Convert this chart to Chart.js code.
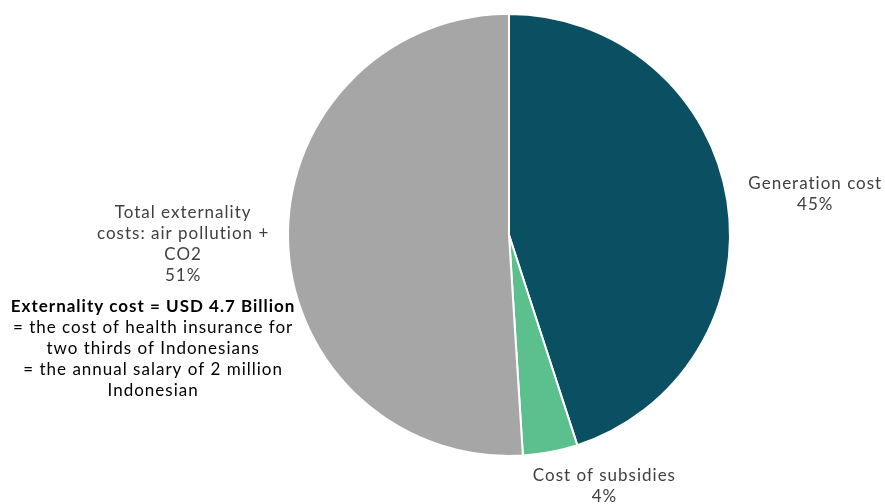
<!DOCTYPE html>
<html>
<head>
<meta charset="utf-8">
<script src="https://cdn.jsdelivr.net/npm/chart.js@4"></script>
<style>
  html, body { margin: 0; padding: 0; background: #ffffff; }
  #wrap { width: 885px; height: 504px; position: relative; }
</style>
</head>
<body>
<div id="wrap"><canvas id="c" width="885" height="504"></canvas></div>
<script>
// ---- Data ----
const categories = ["Generation cost", "Cost of subsidies", "Total externality costs: air pollution + CO2"];
const labelLines = [
  ["Generation cost"],
  ["Cost of subsidies"],
  ["Total externality", "costs: air pollution +", "CO2"]
];
const shares = [45, 4, 51];
const sliceColors = ["#0a4f62", "#5bbf8e", "#a6a6a6"];
const noteBold = "Externality cost = USD 4.7 Billion";
const noteLines = [
  "= the cost of health insurance for",
  "two thirds of Indonesians",
  "= the annual salary of 2 million",
  "Indonesian"
];

// label placement relative to each slice's outer mid-point (dx, dy of block centre)
const labelOffsets = [[88, -6], [54, 34], [-105, 2]];
const noteOffset = [-135, 107]; // relative to the externality slice anchor
const FONT = "Lato, 'Open Sans', sans-serif";
const FONT_SIZE = 17;
const LINE_H = 21;

function setSpacing(ctx) {
  if ('letterSpacing' in ctx) ctx.letterSpacing = "1px";
}

const labelPlugin = {
  id: 'sliceLabels',
  afterDraw(chart) {
    const ctx = chart.ctx;
    const meta = chart.getDatasetMeta(0);
    const anchors = [];
    const total = shares.reduce((a, b) => a + b, 0);
    meta.data.forEach((arc, i) => {
      const p = arc.getProps(['x', 'y', 'startAngle', 'endAngle', 'outerRadius'], true);
      const mid = (p.startAngle + p.endAngle) / 2;
      const ax = p.x + Math.cos(mid) * p.outerRadius;
      const ay = p.y + Math.sin(mid) * p.outerRadius;
      anchors.push([ax, ay]);
      const lines = labelLines[i].concat([Math.round(shares[i] / total * 100) + "%"]);
      const cx = ax + labelOffsets[i][0];
      const cy = ay + labelOffsets[i][1];
      const top = cy - (lines.length - 1) * LINE_H / 2;
      ctx.save();
      setSpacing(ctx);
      ctx.fillStyle = "#404040";
      ctx.font = FONT_SIZE + "px " + FONT;
      ctx.textAlign = "center";
      ctx.textBaseline = "middle";
      lines.forEach((t, k) => ctx.fillText(t, cx, top + k * LINE_H));
      ctx.restore();
    });
    // annotation block
    const a = anchors[2];
    const nx = a[0] + noteOffset[0];
    const all = [noteBold].concat(noteLines);
    const ntop = a[1] + noteOffset[1] - (all.length - 1) * LINE_H / 2;
    ctx.save();
    setSpacing(ctx);
    ctx.fillStyle = "#000000";
    ctx.textAlign = "center";
    ctx.textBaseline = "middle";
    all.forEach((t, k) => {
      ctx.font = (k === 0 ? "bold " : "") + FONT_SIZE + "px " + FONT;
      ctx.fillText(t, nx, ntop + k * LINE_H);
    });
    ctx.restore();
  }
};

new Chart(document.getElementById('c'), {
  type: 'pie',
  data: {
    labels: categories,
    datasets: [{
      data: shares,
      backgroundColor: sliceColors,
      borderColor: "#ffffff",
      borderWidth: 2
    }]
  },
  options: {
    responsive: false,
    animation: false,
    layout: { padding: { left: 287, right: 154, top: 12, bottom: 46 } },
    plugins: {
      legend: { display: false },
      tooltip: { enabled: false }
    }
  },
  plugins: [labelPlugin]
});
</script>
</body>
</html>
